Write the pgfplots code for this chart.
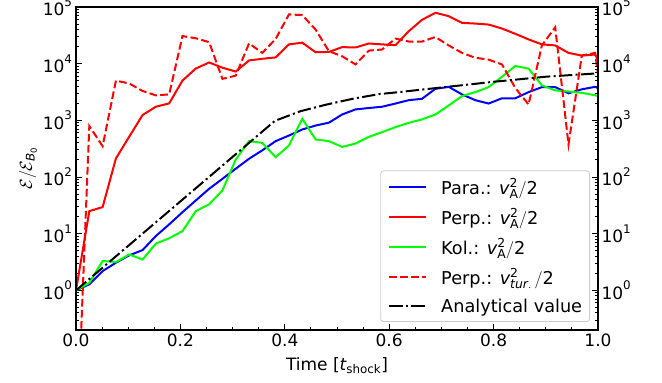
\documentclass[border=0pt]{standalone}
\usepackage{fontspec}
\setmainfont{DejaVu Sans}
\usepackage{pgfplots}
\pgfplotsset{compat=1.18}
\definecolor{legedge}{RGB}{204,204,204}
\pgfplotsset{
  common/.style={
    at={(0pt,0pt)}, anchor=south west,
    scale only axis, width=522pt, height=323pt,
    xmin=0, xmax=1, ymin=0.2, ymax=1e5,
    font=\fontsize{17}{20.4}\selectfont,
    axis line style={line width=1.2pt},
    tick style={line width=1pt, black},
    tick align=inside,
    major tick length=6pt, minor tick length=3.5pt,
    ytick={1,10,100,1000,10000,100000},
    minor ytick={0.2,0.3,0.4,0.5,0.6,0.7,0.8,0.9,2,3,4,5,6,7,8,9,20,30,40,50,60,70,80,90,200,300,400,500,600,700,800,900,2000,3000,4000,5000,6000,7000,8000,9000,20000,30000,40000,50000,60000,70000,80000,90000},
    yticklabels={$\mathrm{10}^{\mathrm{0}}$,$\mathrm{10}^{\mathrm{1}}$,$\mathrm{10}^{\mathrm{2}}$,$\mathrm{10}^{\mathrm{3}}$,$\mathrm{10}^{\mathrm{4}}$,$\mathrm{10}^{\mathrm{5}}$},
  }
}
\begin{document}
\begin{tikzpicture}
\path[use as bounding box] (-76pt,-53pt) rectangle (586pt,330pt);
\begin{semilogyaxis}[
  common,
  xtick pos=lower, ytick pos=left,
  xtick={0,0.2,0.4,0.6,0.8,1.0},
  xticklabels={0.0,0.2,0.4,0.6,0.8,1.0},
  minor xtick={0.05,0.1,0.15,0.25,0.3,0.35,0.45,0.5,0.55,0.65,0.7,0.75,0.85,0.9,0.95},
  xlabel={Time [$\mathit{t}_{\mathrm{shock}}$]},
  ylabel={$\mathcal{E}/\mathcal{E}_{\mathit{B}_{\mathrm{0}}}$},
  xlabel style={at={(axis description cs:0.5,-0.111)}, anchor=center},
  ylabel style={at={(axis description cs:-0.092,0.5)}, anchor=center},
  legend cell align=left,
  legend style={at={(axis description cs:0.9847,0.0248)}, anchor=south east,
    draw=legedge, line width=0.8pt, rounded corners=3pt, fill=white, fill opacity=0.8, text opacity=1,
    font=\fontsize{17.7}{21}\selectfont, row sep=9pt, inner xsep=7.5pt, inner ysep=6pt,
    nodes={inner xsep=0pt},
    /tikz/every odd column/.append style={column sep=14pt}},
  legend image code/.code={\draw[#1] (0pt,0pt) -- (37pt,0pt);},
]
\addplot[blue, line width=2pt] coordinates {
(0,1) (0.0255,1.28) (0.051,2.19) (0.0765,3.08) (0.102,4.15) (0.1275,5.14) (0.153,9.1) (0.1785,14.6)
(0.204,24) (0.2295,38.6) (0.255,62) (0.2805,93) (0.306,140) (0.3315,210) (0.357,296) (0.3825,430)
(0.408,540) (0.4335,690) (0.459,810) (0.4845,910) (0.51,1270) (0.5355,1560) (0.561,1650) (0.5865,1740)
(0.612,1980) (0.6375,2270) (0.663,2400) (0.6885,3600) (0.714,3900) (0.7395,2870) (0.765,2270) (0.7905,1980)
(0.816,2450) (0.8415,2450) (0.867,3150) (0.8925,3860) (0.918,3860) (0.9435,3000) (0.969,3530) (0.9945,3900) (1.0,3700)};
\addlegendentry{Para.: $\mathit{v}^{\mathrm{2}}_{\mathrm{A}}/\mathrm{2}$}
\addplot[red, line width=2pt] coordinates {
(0,1) (0.0255,25) (0.051,29.5) (0.0765,213) (0.102,515) (0.1275,1240) (0.153,1740) (0.1785,1990)
(0.204,5030) (0.2295,8200) (0.255,10500) (0.2805,8500) (0.306,7250) (0.3315,11400) (0.357,12200) (0.3825,12900)
(0.408,21900) (0.4335,23500) (0.459,15900) (0.4845,16100) (0.51,19600) (0.5355,19300) (0.561,22700) (0.5865,21900)
(0.612,21200) (0.6375,37400) (0.663,59500) (0.6885,79000) (0.714,69000) (0.7395,52500) (0.765,51000) (0.7905,49000)
(0.816,41700) (0.8415,33700) (0.867,26800) (0.8925,21900) (0.918,21000) (0.9435,15500) (0.969,13900) (0.9945,14500) (1.0,11700)};
\addlegendentry{Perp.: $\mathit{v}^{\mathrm{2}}_{\mathrm{A}}/\mathrm{2}$}
\addplot[color={rgb,255:red,0;green,255;blue,0}, line width=2pt] coordinates {
(0,1) (0.0255,1.36) (0.051,3.3) (0.0765,3.16) (0.102,4.3) (0.1275,3.5) (0.153,6.7) (0.1785,8.3)
(0.204,11.1) (0.2295,25) (0.255,33) (0.2805,58) (0.306,204) (0.3315,430) (0.357,400) (0.3825,224)
(0.408,360) (0.4335,1070) (0.459,460) (0.4845,430) (0.51,340) (0.5355,390) (0.561,510) (0.5865,620)
(0.612,760) (0.6375,905) (0.663,1040) (0.6885,1270) (0.714,1830) (0.7395,2680) (0.765,3150) (0.7905,3860)
(0.816,5860) (0.8415,9100) (0.867,8200) (0.8925,4140) (0.918,3380) (0.9435,3230) (0.969,3060) (0.9945,2770) (1.0,2680)};
\addlegendentry{Kol.: $\mathit{v}^{\mathrm{2}}_{\mathrm{A}}/\mathrm{2}$}
\addplot[red, line width=2pt, dash pattern=on 7.7pt off 3.3pt] coordinates {
(0,0.001) (0.0255,794) (0.051,350) (0.0765,5030) (0.102,4470) (0.1275,3300) (0.153,2760) (0.1785,2870)
(0.204,30700) (0.2295,28100) (0.255,24000) (0.2805,5400) (0.306,6150) (0.3315,22800) (0.357,15500) (0.3825,27300)
(0.408,74000) (0.4335,72000) (0.459,40000) (0.4845,16600) (0.51,13500) (0.5355,9700) (0.561,17000) (0.5865,17800)
(0.612,27700) (0.6375,24600) (0.663,24600) (0.6885,29500) (0.714,21000) (0.7395,15500) (0.765,12700) (0.7905,11800)
(0.816,9700) (0.8415,3740) (0.867,1900) (0.8925,21000) (0.918,43900) (0.9435,375) (0.969,13900) (0.9945,15500) (1.0,6600)};
\addlegendentry{Perp.: $\mathit{v}^{\mathrm{2}}_{\mathit{tur.}}\,/\mathrm{2}$}
\addplot[black, line width=2pt, dash pattern=on 13.3pt off 3.3pt on 2.1pt off 3.3pt] coordinates {
(0,1) (0.381,980) (0.43,1450) (0.48,1900) (0.53,2400) (0.58,2900) (0.62,3160) (0.70,3800) (0.80,4790) (0.90,5890) (1.0,6760)};
\addlegendentry{Analytical value}
\end{semilogyaxis}
\begin{semilogyaxis}[
  common,
  xtick=\empty,
  ytick pos=right, yticklabel pos=right,
]
\addplot[draw=none] coordinates {(0,1) (1,1)};
\end{semilogyaxis}
\end{tikzpicture}
\end{document}
